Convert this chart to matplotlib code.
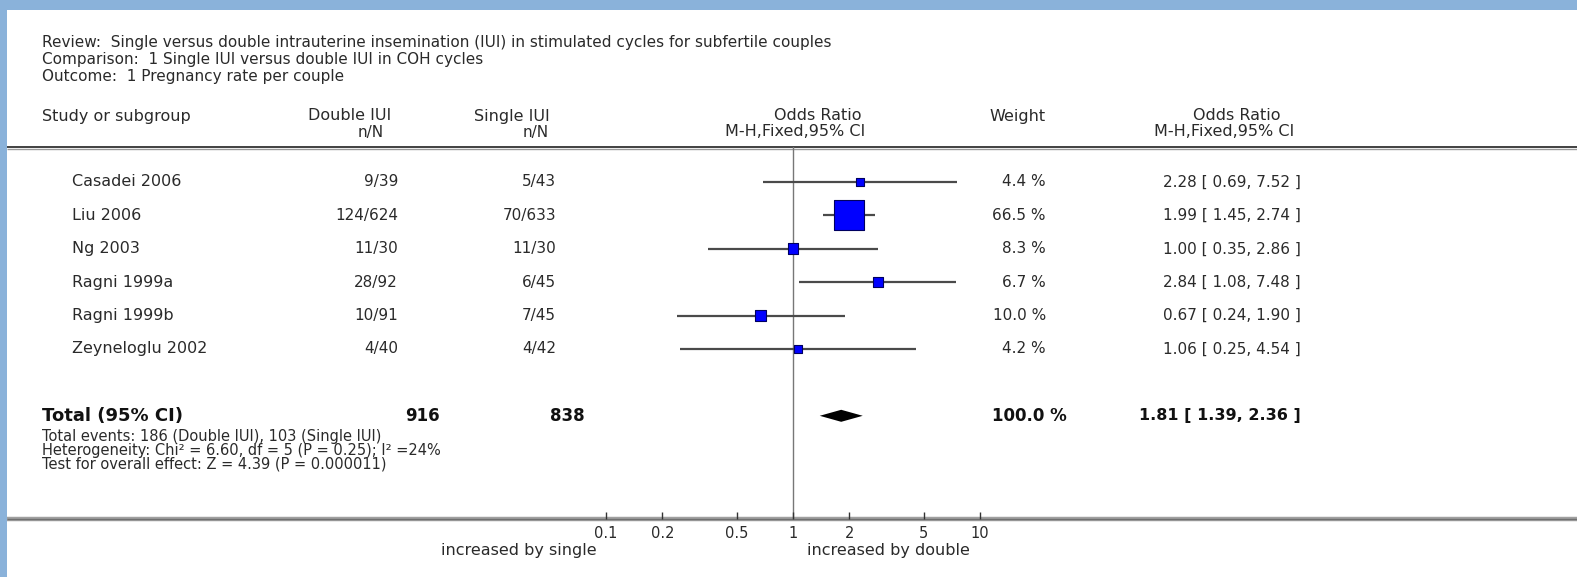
import matplotlib
matplotlib.use('Agg')
import matplotlib.pyplot as plt
import matplotlib.transforms as mtransforms
import numpy as np

# study data
studies = ['Casadei 2006', 'Liu 2006', 'Ng 2003', 'Ragni 1999a', 'Ragni 1999b', 'Zeyneloglu 2002']
double_nN = ['9/39', '124/624', '11/30', '28/92', '10/91', '4/40']
single_nN = ['5/43', '70/633', '11/30', '6/45', '7/45', '4/42']
odds_ratio = [2.28, 1.99, 1.00, 2.84, 0.67, 1.06]
ci_low = [0.69, 1.45, 0.35, 1.08, 0.24, 0.25]
ci_high = [7.52, 2.74, 2.86, 7.48, 1.90, 4.54]
weights = [4.4, 66.5, 8.3, 6.7, 10.0, 4.2]

total_double = 916
total_single = 838
total_or = 1.81
total_low = 1.39
total_high = 2.36
total_weight = 100.0

xticks = [0.1, 0.2, 0.5, 1, 2, 5, 10]
xtick_labels = ['0.1', '0.2', '0.5', '1', '2', '5', '10']

header_lines = [
    'Review:  Single versus double intrauterine insemination (IUI) in stimulated cycles for subfertile couples',
    'Comparison:  1 Single IUI versus double IUI in COH cycles',
    'Outcome:  1 Pregnancy rate per couple',
]
footer_lines = [
    'Total events: 186 (Double IUI), 103 (Single IUI)',
    'Heterogeneity: Chi\u00b2 = 6.60, df = 5 (P = 0.25); I\u00b2 =24%',
    'Test for overall effect: Z = 4.39 (P = 0.000011)',
]

W, H = 1577, 577
BLUE = '#8ab2da'
TXT = '#2a2a2a'
plt.rcParams['font.family'] = ['DejaVu Sans']

fig = plt.figure(figsize=(W / 100, H / 100), dpi=100)
fig.patch.set_facecolor('white')

# background/layout axes in pixel coordinates
bg = fig.add_axes([0, 0, 1, 1])
bg.set_xlim(0, W)
bg.set_ylim(H, 0)
bg.axis('off')
bg.add_patch(plt.Rectangle((0, 0), W, 10, color=BLUE, lw=0))
bg.add_patch(plt.Rectangle((0, 0), 7, H, color=BLUE, lw=0))

# forest axes: 0.1 at x=606, 10 at x=980, top y=147, bottom y=519
x0, x1, ytop, ybot = 606, 980, 147, 519
ax = fig.add_axes([x0 / W, 1 - ybot / H, (x1 - x0) / W, (ybot - ytop) / H])
ax.set_xscale('log')
ax.set_xlim(0.1, 10)
row_px = 33.4
row0 = 182
ax.set_ylim((ybot - row0) / row_px, (ytop - row0) / row_px)
ax.patch.set_alpha(0)
for s in ax.spines.values():
    s.set_visible(False)
ax.yaxis.set_visible(False)
ax.set_xticks(xticks)
ax.set_xticklabels(xtick_labels)
ax.minorticks_off()
ax.tick_params(axis='x', direction='in', length=5, width=1, color='#333333',
               labelsize=10.5, labelcolor=TXT, pad=5)

# horizontal rules
bg.plot([7, W], [146.5, 146.5], color='#333333', lw=1.3, solid_capstyle='butt')
bg.plot([7, W], [148.8, 148.8], color='#9a9a9a', lw=1.0, solid_capstyle='butt')
bg.plot([7, W], [519, 519], color='#a0a0a0', lw=3.2, solid_capstyle='butt')
bg.plot([7, W], [519, 519], color='#707070', lw=1.0, solid_capstyle='butt')

ax.axvline(1, color='#777777', lw=1.0, zorder=1)

rows = np.arange(len(studies))
for i in rows:
    ax.plot([ci_low[i], ci_high[i]], [i, i], color='#4a4a4a', lw=1.6, zorder=2,
            solid_capstyle='butt', clip_on=False)
sizes = (2.65 * np.sqrt(weights)) ** 2
ax.scatter(odds_ratio, rows, s=sizes, marker='s', color='#0000ff',
           edgecolors='#000060', linewidths=0.8, zorder=3, clip_on=False)

total_row = 7
dh = 0.18
ax.fill([total_low, total_or, total_high, total_or],
        [total_row, total_row - dh, total_row, total_row + dh],
        color='black', lw=0, zorder=3, clip_on=False)

# text in pixel x, row y
tr = mtransforms.blended_transform_factory(bg.transData, ax.transData)
fs_name = 11.5
fs_num = 11
fs_head = 11.5
for i, line in enumerate(header_lines):
    bg.text(42, 42 + 17.5 * i, line, fontsize=11, color=TXT, va='center', ha='left')

bg.text(42, 116, 'Study or subgroup', fontsize=fs_head, color=TXT, va='center')
bg.text(350, 116, 'Double IUI', fontsize=fs_head, color=TXT, va='center', ha='center')
bg.text(371, 132, 'n/N', fontsize=fs_num, color=TXT, va='center', ha='center')
bg.text(512, 116, 'Single IUI', fontsize=fs_head, color=TXT, va='center', ha='center')
bg.text(536, 132, 'n/N', fontsize=fs_num, color=TXT, va='center', ha='center')
bg.text(818, 116, 'Odds Ratio', fontsize=fs_head, color=TXT, va='center', ha='center')
bg.text(795, 132, 'M-H,Fixed,95% CI', fontsize=fs_head, color=TXT, va='center', ha='center')
bg.text(1018, 116, 'Weight', fontsize=fs_head, color=TXT, va='center', ha='center')
bg.text(1237, 116, 'Odds Ratio', fontsize=fs_head, color=TXT, va='center', ha='center')
bg.text(1224, 132, 'M-H,Fixed,95% CI', fontsize=fs_head, color=TXT, va='center', ha='center')

for i in rows:
    ax.text(72, i, studies[i], transform=tr, fontsize=fs_name, color=TXT, va='center', ha='left')
    ax.text(398, i, double_nN[i], transform=tr, fontsize=fs_num, color=TXT, va='center', ha='right')
    ax.text(556, i, single_nN[i], transform=tr, fontsize=fs_num, color=TXT, va='center', ha='right')
    ax.text(1046, i, f'{weights[i]:.1f} %', transform=tr, fontsize=fs_num, color=TXT,
            va='center', ha='right')
    ax.text(1301, i, f'{odds_ratio[i]:.2f} [ {ci_low[i]:.2f}, {ci_high[i]:.2f} ]',
            transform=tr, fontsize=fs_num, color=TXT, va='center', ha='right')

bold = dict(fontsize=12, color='#111111', va='center', fontweight='bold', transform=tr)
ax.text(42, total_row, 'Total (95% CI)', ha='left', fontsize=13, color='#111111',
        va='center', fontweight='bold', transform=tr)
ax.text(440, total_row, f'{total_double}', ha='right', **bold)
ax.text(585, total_row, f'{total_single}', ha='right', **bold)
ax.text(1067, total_row, f'{total_weight:.1f} %', ha='right', **bold)
ax.text(1301, total_row, f'{total_or:.2f} [ {total_low:.2f}, {total_high:.2f} ]', ha='right',
        fontsize=11.5, color='#111111', va='center', fontweight='bold', transform=tr)

for i, line in enumerate(footer_lines):
    bg.text(42, 436 + 14 * i, line, fontsize=10.5, color=TXT, va='center', ha='left')

bg.text(519, 551, 'increased by single', fontsize=fs_name, color=TXT, va='center', ha='center')
bg.text(888, 551, 'increased by double', fontsize=fs_name, color=TXT, va='center', ha='center')

fig.savefig('out.png', dpi=100, facecolor='white')
